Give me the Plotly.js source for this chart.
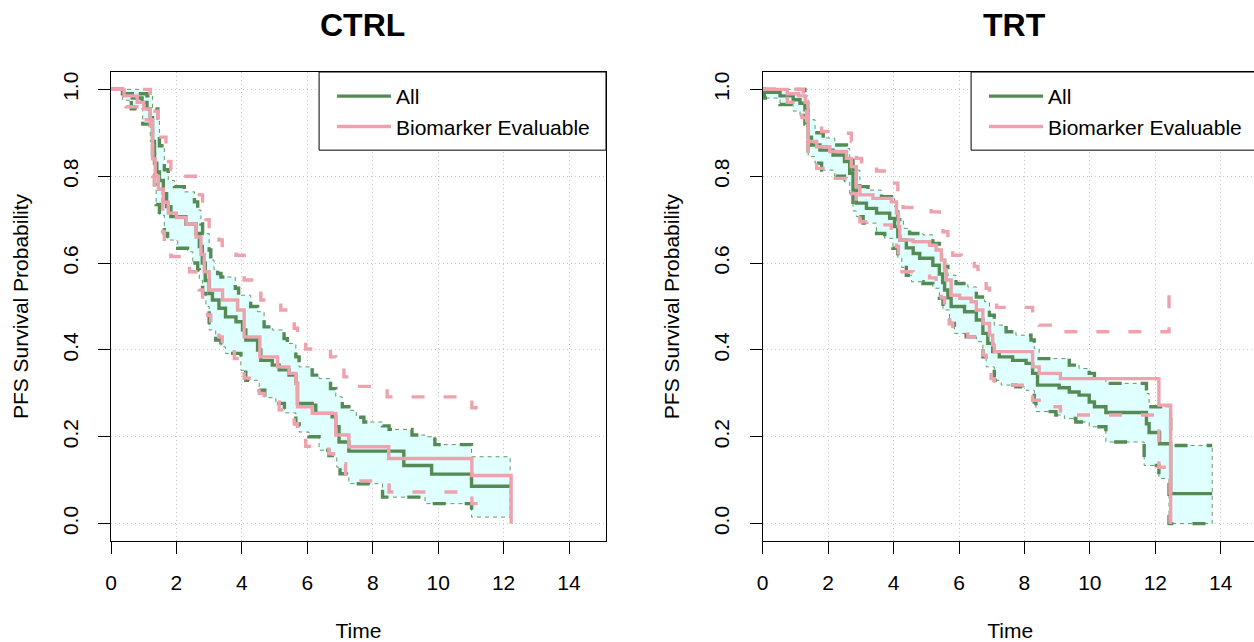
<!DOCTYPE html>
<html>
<head>
<meta charset="utf-8">
<script src="https://cdn.plot.ly/plotly-3.0.1.min.js"></script>
<style>
html,body{margin:0;padding:0;overflow:hidden;background:#ffffff;}
#chart{width:1262px;height:642px;}
</style>
</head>
<body>
<div id="chart"></div>
<script>
// ---------------- data ----------------
const panelTitles = ["CTRL", "TRT"];
const seriesNames = ["All", "Biomarker Evaluable"];
const xTicks = [0, 2, 4, 6, 8, 10, 12, 14];
const xTickText = ["0", "2", "4", "6", "8", "10", "12", "14"];
const yTicks = [0, 0.2, 0.4, 0.6, 0.8, 1.0];
const yTickText = ["0.0", "0.2", "0.4", "0.6", "0.8", "1.0"];

// CTRL - All: Kaplan-Meier estimate
const ctrlAllT = [0, 0.35, 0.65, 0.95, 1.1, 1.2, 1.27, 1.33, 1.4, 1.48, 1.6, 1.7, 1.83, 2.29, 2.6, 2.7, 2.79, 2.88, 3.0, 3.1, 3.3, 3.5, 3.82, 4.02, 4.12, 4.48, 4.58, 4.93, 5.14, 5.44, 5.65, 5.7, 6.15, 6.26, 6.76, 6.87, 6.97, 7.27, 8.95, 9.8, 11.02, 12.2];
const ctrlAllS = [1.0, 0.99, 0.98, 0.97, 0.955, 0.935, 0.88, 0.83, 0.81, 0.79, 0.76, 0.73, 0.707, 0.69, 0.668, 0.638, 0.6, 0.56, 0.53, 0.515, 0.496, 0.476, 0.465, 0.446, 0.423, 0.4, 0.376, 0.365, 0.354, 0.342, 0.323, 0.277, 0.273, 0.254, 0.246, 0.223, 0.188, 0.167, 0.134, 0.114, 0.086, 0.086];
// CTRL - All: upper / lower confidence limits
const ctrlAllUpT = [0, 0.9, 1.1, 1.27, 1.43, 1.48, 1.63, 1.75, 1.94, 2.24, 2.55, 2.65, 2.75, 2.8, 3.0, 3.05, 3.15, 3.26, 3.36, 3.8, 3.9, 4.27, 4.48, 4.68, 4.93, 5.29, 5.39, 5.65, 5.75, 6.15, 6.36, 6.71, 6.87, 7.07, 7.27, 7.5, 7.73, 8.3, 8.5, 9.2, 9.6, 9.9, 11.02, 12.2];
const ctrlAllUpS = [1.0, 0.99, 0.985, 0.955, 0.93, 0.87, 0.815, 0.79, 0.776, 0.764, 0.741, 0.722, 0.69, 0.668, 0.63, 0.607, 0.585, 0.576, 0.568, 0.542, 0.526, 0.5, 0.488, 0.453, 0.446, 0.426, 0.415, 0.384, 0.361, 0.342, 0.334, 0.311, 0.292, 0.269, 0.261, 0.245, 0.234, 0.225, 0.217, 0.204, 0.2, 0.182, 0.154, 0.154];
const ctrlAllLoT = [0, 0.35, 0.62, 0.97, 1.2, 1.27, 1.33, 1.38, 1.48, 1.63, 1.73, 2.04, 2.34, 2.5, 2.65, 2.7, 2.8, 2.9, 3.0, 3.2, 3.36, 3.5, 3.97, 4.12, 4.53, 4.7, 5.04, 5.3, 5.65, 5.75, 6.05, 6.36, 6.66, 6.9, 7.0, 7.27, 8.3, 9.6, 11.02, 12.2];
const ctrlAllLoS = [1.0, 0.975, 0.955, 0.92, 0.88, 0.85, 0.78, 0.735, 0.71, 0.668, 0.653, 0.634, 0.626, 0.6, 0.584, 0.56, 0.53, 0.5, 0.446, 0.423, 0.407, 0.392, 0.353, 0.33, 0.307, 0.29, 0.277, 0.255, 0.23, 0.211, 0.2, 0.169, 0.157, 0.13, 0.115, 0.092, 0.061, 0.046, 0.015, 0.015];
// CTRL - Biomarker Evaluable
const ctrlBioT = [0, 0.4, 0.8, 1.0, 1.2, 1.27, 1.35, 1.45, 1.6, 1.75, 2.0, 2.3, 2.6, 2.75, 2.85, 3.0, 3.41, 3.87, 4.07, 4.55, 5.09, 5.44, 5.65, 5.7, 6.15, 6.87, 7.27, 8.49, 11.03, 12.23];
const ctrlBioS = [1.0, 0.985, 0.97, 0.955, 0.93, 0.84, 0.8, 0.77, 0.74, 0.715, 0.705, 0.69, 0.66, 0.62, 0.58, 0.538, 0.515, 0.492, 0.43, 0.384, 0.361, 0.346, 0.323, 0.269, 0.254, 0.204, 0.177, 0.15, 0.111, 0.0];
const ctrlBioUpT = [0, 1.2, 1.27, 1.43, 1.68, 1.83, 2.19, 2.7, 2.8, 2.9, 3.0, 3.3, 3.4, 3.82, 4.07, 4.58, 5.19, 5.34, 5.6, 5.7, 5.95, 6.71, 6.87, 7.12, 7.27, 8.44, 11.03, 11.45];
const ctrlBioUpS = [1.0, 0.97, 0.95, 0.89, 0.834, 0.815, 0.8, 0.757, 0.734, 0.7, 0.676, 0.653, 0.63, 0.618, 0.561, 0.515, 0.492, 0.476, 0.45, 0.426, 0.402, 0.384, 0.365, 0.338, 0.316, 0.292, 0.267, 0.267];
const ctrlBioLoT = [0, 0.46, 0.97, 1.2, 1.27, 1.33, 1.58, 1.63, 1.83, 2.4, 2.7, 2.8, 2.95, 3.05, 3.3, 3.4, 3.77, 4.07, 4.53, 4.68, 5.14, 5.34, 5.6, 5.7, 5.95, 6.66, 6.8, 7.17, 7.27, 8.5, 11.03, 11.45];
const ctrlBioLoS = [1.0, 0.96, 0.93, 0.88, 0.8, 0.77, 0.672, 0.645, 0.615, 0.58, 0.538, 0.511, 0.48, 0.453, 0.43, 0.407, 0.38, 0.335, 0.3, 0.28, 0.262, 0.25, 0.23, 0.21, 0.178, 0.161, 0.138, 0.11, 0.098, 0.073, 0.046, 0.046];

// TRT - All
const trtAllT = [0, 0.05, 0.53, 0.93, 1.14, 1.29, 1.39, 1.49, 1.75, 2.15, 2.5, 2.66, 2.76, 2.86, 3.17, 3.48, 3.88, 4.03, 4.13, 4.19, 4.39, 4.6, 4.8, 5.2, 5.4, 5.5, 5.56, 5.66, 5.76, 6.17, 6.53, 6.73, 6.88, 7.03, 7.23, 7.64, 8.05, 8.25, 8.4, 9.06, 9.37, 9.67, 9.98, 10.14, 10.49, 11.73, 11.81, 12.13, 12.47, 13.74];
const trtAllS = [1.0, 0.993, 0.985, 0.976, 0.968, 0.953, 0.89, 0.872, 0.86, 0.849, 0.834, 0.807, 0.768, 0.738, 0.726, 0.715, 0.703, 0.684, 0.661, 0.653, 0.635, 0.622, 0.611, 0.595, 0.575, 0.555, 0.538, 0.52, 0.5, 0.488, 0.469, 0.438, 0.415, 0.396, 0.384, 0.376, 0.369, 0.346, 0.319, 0.313, 0.303, 0.296, 0.28, 0.269, 0.256, 0.23, 0.21, 0.184, 0.069, 0.069];
const trtAllUpT = [0, 1.29, 1.39, 1.6, 1.85, 2.2, 2.56, 2.66, 2.76, 2.97, 3.22, 3.63, 3.93, 4.03, 4.13, 4.3, 4.49, 4.9, 5.2, 5.4, 5.5, 5.56, 5.66, 5.91, 6.27, 6.53, 6.78, 6.93, 7.08, 7.44, 7.74, 8.2, 8.3, 8.45, 9.37, 9.67, 9.98, 10.14, 10.49, 11.73, 11.81, 12.47, 13.74];
const trtAllUpS = [1.0, 0.985, 0.93, 0.9, 0.888, 0.872, 0.864, 0.837, 0.814, 0.776, 0.768, 0.753, 0.749, 0.73, 0.7, 0.68, 0.668, 0.665, 0.645, 0.63, 0.61, 0.592, 0.572, 0.553, 0.545, 0.522, 0.511, 0.48, 0.457, 0.442, 0.434, 0.423, 0.403, 0.38, 0.365, 0.357, 0.346, 0.335, 0.323, 0.3, 0.269, 0.18, 0.18];
const trtAllLoT = [0, 0.05, 0.53, 0.93, 1.14, 1.29, 1.39, 1.6, 1.8, 2.2, 2.5, 2.66, 2.76, 2.86, 3.07, 3.48, 3.73, 3.98, 4.13, 4.25, 4.39, 4.55, 4.9, 5.2, 5.4, 5.51, 5.71, 5.86, 6.22, 6.53, 6.73, 6.83, 7.08, 7.29, 7.74, 8.05, 8.3, 8.35, 8.96, 9.22, 9.57, 9.98, 10.49, 11.66, 12.11, 12.42, 13.74];
const trtAllLoS = [1.0, 0.98, 0.965, 0.95, 0.94, 0.92, 0.845, 0.83, 0.814, 0.8, 0.787, 0.76, 0.72, 0.707, 0.692, 0.668, 0.657, 0.634, 0.611, 0.59, 0.572, 0.557, 0.553, 0.542, 0.519, 0.492, 0.461, 0.438, 0.43, 0.419, 0.384, 0.361, 0.33, 0.319, 0.315, 0.307, 0.28, 0.258, 0.25, 0.242, 0.234, 0.223, 0.188, 0.134, 0.104, 0.0, 0.0];
// TRT - Biomarker Evaluable
const trtBioT = [0, 0.75, 1.1, 1.3, 1.39, 1.65, 2.05, 2.56, 2.71, 2.86, 2.97, 3.37, 3.93, 4.09, 4.15, 4.19, 4.6, 5.1, 5.3, 5.46, 5.56, 5.61, 5.76, 6.02, 6.37, 6.53, 6.73, 6.93, 7.03, 7.08, 8.25, 8.45, 9.1, 12.11, 12.47];
const trtBioS = [1.0, 0.99, 0.985, 0.97, 0.88, 0.868, 0.857, 0.841, 0.822, 0.776, 0.757, 0.749, 0.741, 0.715, 0.684, 0.653, 0.649, 0.641, 0.63, 0.607, 0.584, 0.561, 0.526, 0.519, 0.511, 0.492, 0.461, 0.434, 0.411, 0.396, 0.361, 0.346, 0.334, 0.273, 0.0];
const trtBioUpT = [0, 1.24, 1.34, 1.8, 2.56, 2.71, 2.86, 3.02, 3.48, 4.03, 4.13, 4.29, 5.15, 5.4, 5.51, 5.66, 5.81, 6.07, 6.47, 6.58, 6.83, 6.93, 7.15, 8.25, 8.45, 9.1, 12.42];
const trtBioUpS = [1.0, 0.955, 0.918, 0.903, 0.899, 0.88, 0.841, 0.826, 0.812, 0.784, 0.761, 0.728, 0.718, 0.703, 0.672, 0.649, 0.618, 0.607, 0.592, 0.568, 0.542, 0.526, 0.498, 0.48, 0.457, 0.442, 0.55];
const trtBioLoT = [0, 0.75, 1.1, 1.2, 1.39, 1.65, 2.05, 2.56, 2.71, 2.86, 2.97, 3.37, 3.93, 4.09, 4.15, 4.19, 4.6, 5.1, 5.3, 5.46, 5.56, 5.61, 5.71, 5.81, 6.27, 6.53, 6.73, 6.83, 6.98, 7.08, 8.25, 8.45, 9.1, 12.11, 12.45];
const trtBioLoS = [1.0, 0.97, 0.96, 0.935, 0.83, 0.818, 0.795, 0.78, 0.76, 0.71, 0.695, 0.688, 0.68, 0.638, 0.61, 0.58, 0.576, 0.566, 0.553, 0.52, 0.5, 0.475, 0.461, 0.446, 0.43, 0.415, 0.388, 0.361, 0.334, 0.319, 0.284, 0.269, 0.25, 0.13, 0.0];

// time up to which the "All" confidence lines are drawn (band extends to the last time)
const ciLineEnd = [11.02, 13.74];

// ---------------- styling ----------------
const W = 1262, H = 642;
const FONT = "Liberation Sans, Arial, Helvetica, sans-serif";
const GREEN = "#548B54";
const PINK = "#EEA2AD";
const BAND = "#E0FFFF";
const DASH = "13px,19px";
const LW = 3.4;

const panels = [
  {xa: "x", ya: "y", leg: "legend", dom: [111 / W, 606 / W],
   all: [ctrlAllT, ctrlAllS], up: [ctrlAllUpT, ctrlAllUpS], lo: [ctrlAllLoT, ctrlAllLoS],
   bio: [ctrlBioT, ctrlBioS], bup: [ctrlBioUpT, ctrlBioUpS], blo: [ctrlBioLoT, ctrlBioLoS], end: ciLineEnd[0]},
  {xa: "x2", ya: "y2", leg: "legend2", dom: [762.7 / W, 1257.7 / W],
   all: [trtAllT, trtAllS], up: [trtAllUpT, trtAllUpS], lo: [trtAllLoT, trtAllLoS],
   bio: [trtBioT, trtBioS], bup: [trtBioUpT, trtBioUpS], blo: [trtBioLoT, trtBioLoS], end: ciLineEnd[1]}
];

function stair(T, S) {
  const x = [T[0]], y = [S[0]];
  for (let i = 1; i < T.length; i++) { x.push(T[i], T[i]); y.push(S[i - 1], S[i]); }
  return {x, y};
}
function upTo(pair, end) {
  const t = [], s = [];
  pair[0].forEach((v, i) => { if (v <= end + 1e-9) { t.push(v); s.push(pair[1][i]); } });
  return [t, s];
}

const traces = [];
panels.forEach((p) => {
  const u = stair(p.up[0], p.up[1]);
  const l = stair(p.lo[0], p.lo[1]);
  traces.push({
    type: "scatter", mode: "lines", xaxis: p.xa, yaxis: p.ya,
    x: u.x.concat(l.x.slice().reverse()), y: u.y.concat(l.y.slice().reverse()),
    fill: "toself", fillcolor: BAND,
    line: {color: GREEN, width: 0.9, dash: "4px,4px"},
    showlegend: false, hoverinfo: "skip"
  });
  [upTo(p.up, p.end), upTo(p.lo, p.end)].forEach((c) => {
    traces.push({type: "scatter", mode: "lines", xaxis: p.xa, yaxis: p.ya, x: c[0], y: c[1],
      line: {color: GREEN, width: LW, dash: DASH, shape: "hv"}, showlegend: false, hoverinfo: "skip"});
  });
  traces.push({type: "scatter", mode: "lines", xaxis: p.xa, yaxis: p.ya, x: p.all[0], y: p.all[1],
    name: seriesNames[0], legend: p.leg, line: {color: GREEN, width: LW, shape: "hv"}});
  [p.bup, p.blo].forEach((c) => {
    traces.push({type: "scatter", mode: "lines", xaxis: p.xa, yaxis: p.ya, x: c[0], y: c[1],
      line: {color: PINK, width: LW, dash: DASH, shape: "hv"}, showlegend: false, hoverinfo: "skip"});
  });
  traces.push({type: "scatter", mode: "lines", xaxis: p.xa, yaxis: p.ya, x: p.bio[0], y: p.bio[1],
    name: seriesNames[1], legend: p.leg, line: {color: PINK, width: LW, shape: "hv"}});
});

const yDom = [1 - 541 / H, 1 - 72 / H];
function xAxis(dom, anchor) {
  return {
    domain: dom, anchor: anchor, range: [0, 15.13],
    tickmode: "array", tickvals: xTicks, ticktext: xTickText,
    showline: true, linecolor: "#000", linewidth: 1, mirror: true,
    ticks: "outside", ticklen: 12, tickwidth: 1, tickcolor: "#000", ticklabelstandoff: 11,
    showgrid: true, gridcolor: "#C8C8C8", griddash: "1px,3px", gridwidth: 1, zeroline: false,
    tickfont: {family: FONT, size: 21, color: "#000"},
    title: {text: "Time", font: {family: FONT, size: 21, color: "#000"}, standoff: 39}
  };
}
function yAxis(anchor) {
  return {
    domain: yDom, anchor: anchor, range: [-0.04, 1.04],
    tickmode: "array", tickvals: yTicks, ticktext: yTickText, tickangle: -90,
    showline: true, linecolor: "#000", linewidth: 1, mirror: true,
    ticks: "outside", ticklen: 12, tickwidth: 1, tickcolor: "#000", ticklabelstandoff: 12,
    showgrid: true, gridcolor: "#C8C8C8", griddash: "1px,3px", gridwidth: 1, zeroline: false,
    tickfont: {family: FONT, size: 21, color: "#000"},
    title: {text: "PFS Survival Probability", font: {family: FONT, size: 21, color: "#000"}, standoff: 24}
  };
}
function legendBox(xpx) {
  return {x: xpx / W, xanchor: "left", y: 1 - 76 / H, yanchor: "top",
    bgcolor: "rgba(0,0,0,0)", borderwidth: 0, traceorder: "normal",
    font: {family: FONT, size: 21, color: "#000"}, itemwidth: 54, tracegroupgap: 0};
}

const layout = {
  width: W, height: H, margin: {l: 0, r: 0, t: 0, b: 0},
  paper_bgcolor: "#fff", plot_bgcolor: "#fff",
  font: {family: FONT, size: 21, color: "#000"},
  xaxis: xAxis(panels[0].dom, "y"), yaxis: yAxis("x"),
  xaxis2: xAxis(panels[1].dom, "y2"), yaxis2: yAxis("x2"),
  legend: legendBox(332), legend2: legendBox(984),
  shapes: [
    {type: "rect", xref: "x", yref: "y", x0: 6.36, x1: 15.13, y0: 0.86, y1: 1.04,
     line: {color: "#000", width: 1}, fillcolor: "#fff", layer: "above"},
    {type: "rect", xref: "x2", yref: "y2", x0: 6.37, x1: 15.13, y0: 0.86, y1: 1.04,
     line: {color: "#000", width: 1}, fillcolor: "#fff", layer: "above"}
  ],
  annotations: panelTitles.map((t, i) => ({
    text: t, xref: (i === 0 ? "x" : "x2") + " domain", x: 0.5, xshift: 4,
    yref: "paper", y: 1 - 25 / H, yanchor: "middle", showarrow: false,
    font: {family: FONT, size: 32, color: "#000", weight: 700}
  }))
};

Plotly.newPlot("chart", traces, layout, {displayModeBar: false, staticPlot: true});
</script>
</body>
</html>
